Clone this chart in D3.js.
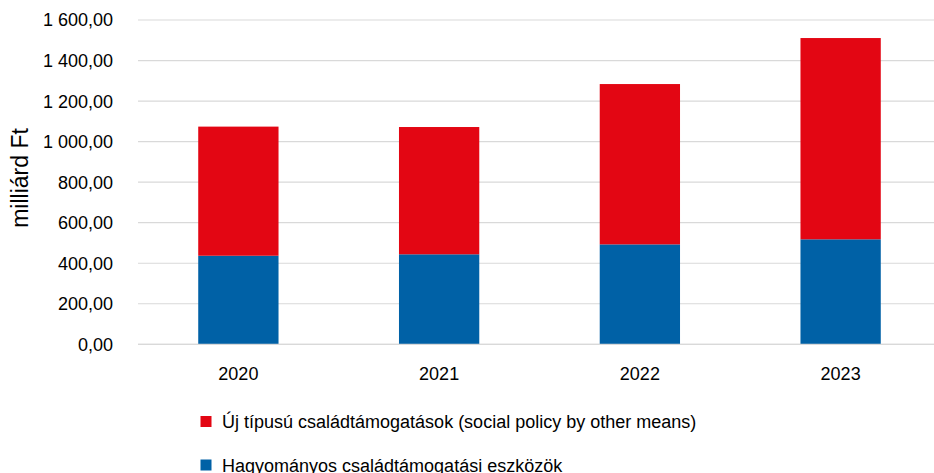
<!DOCTYPE html>
<html>
<head>
<meta charset="utf-8">
<script src="https://cdn.jsdelivr.net/npm/d3@7"></script>
<style>
  html, body { margin: 0; padding: 0; background: #fff; }
  svg { display: block; font-family: "Liberation Sans", Arial, sans-serif; }
</style>
</head>
<body>
<svg id="chart" width="934" height="473"></svg>
<script>
// Family support spending, billion HUF
const years = ["2020", "2021", "2022", "2023"];
const traditional = [437, 444, 493, 518];   // Hagyományos családtámogatási eszközök
const newType = [637, 628, 791, 993];       // Új típusú családtámogatások
const yTicks = [0, 200, 400, 600, 800, 1000, 1200, 1400, 1600];
const seriesNames = [
  "Új típusú családtámogatások (social policy by other means)",
  "Hagyományos családtámogatási eszközök"
];
const colors = { traditional: "#0061A6", newType: "#E30613" };

const svg = d3.select("#chart");
const W = 934;

const x = d3.scaleBand().domain(years).range([138, 941]).paddingInner(0.6).paddingOuter(0.3);
const y = d3.scaleLinear().domain([0, 1600]).range([344.3, 20]);

const locale = d3.formatLocale({ decimal: ",", thousands: "\u00a0", grouping: [3], currency: ["", ""] });
const fmt = locale.format(",.2f");

// Horizontal gridlines
svg.append("g")
  .selectAll("line")
  .data(yTicks)
  .join("line")
  .attr("x1", 138).attr("x2", W)
  .attr("y1", d => y(d)).attr("y2", d => y(d))
  .attr("stroke", "#d9d9d9").attr("stroke-width", 1.2);

// Y tick labels
svg.append("g")
  .selectAll("text")
  .data(yTicks)
  .join("text")
  .attr("x", 113)
  .attr("y", d => y(d))
  .attr("dy", "0.36em")
  .attr("text-anchor", "end")
  .attr("font-size", 18)
  .attr("fill", "#000")
  .text(d => fmt(d));

// Y axis title
svg.append("text")
  .attr("transform", "translate(28,178) rotate(-90)")
  .attr("text-anchor", "middle")
  .attr("font-size", 23)
  .attr("fill", "#000")
  .text("milliárd Ft");

// Stacked bars
const rows = years.map((yr, i) => ({ year: yr, traditional: traditional[i], newType: newType[i] }));
const stack = d3.stack().keys(["traditional", "newType"]);
const layers = stack(rows);

svg.append("g")
  .selectAll("g")
  .data(layers)
  .join("g")
  .attr("fill", d => colors[d.key])
  .selectAll("rect")
  .data(d => d)
  .join("rect")
  .attr("x", d => x(d.data.year))
  .attr("width", x.bandwidth())
  .attr("y", d => y(d[1]))
  .attr("height", d => y(d[0]) - y(d[1]));

// Baseline
svg.append("line")
  .attr("x1", 138).attr("x2", W)
  .attr("y1", y(0)).attr("y2", y(0))
  .attr("stroke", "#d9d9d9").attr("stroke-width", 1.2);

// X tick labels
svg.append("g")
  .selectAll("text")
  .data(years)
  .join("text")
  .attr("x", d => x(d) + x.bandwidth() / 2)
  .attr("y", 380)
  .attr("text-anchor", "middle")
  .attr("font-size", 18)
  .attr("fill", "#000")
  .text(d => d);

// Legend
const legendItems = [
  { name: seriesNames[0], color: colors.newType, y: 416 },
  { name: seriesNames[1], color: colors.traditional, y: 459.5 }
];
const lg = svg.append("g");
lg.selectAll("rect")
  .data(legendItems)
  .join("rect")
  .attr("x", 200.5).attr("y", d => d.y)
  .attr("width", 11).attr("height", 11)
  .attr("fill", d => d.color);
lg.selectAll("text")
  .data(legendItems)
  .join("text")
  .attr("x", 222).attr("y", d => d.y + 12)
  .attr("font-size", 18)
  .attr("fill", "#000")
  .text(d => d.name);
</script>
</body>
</html>
